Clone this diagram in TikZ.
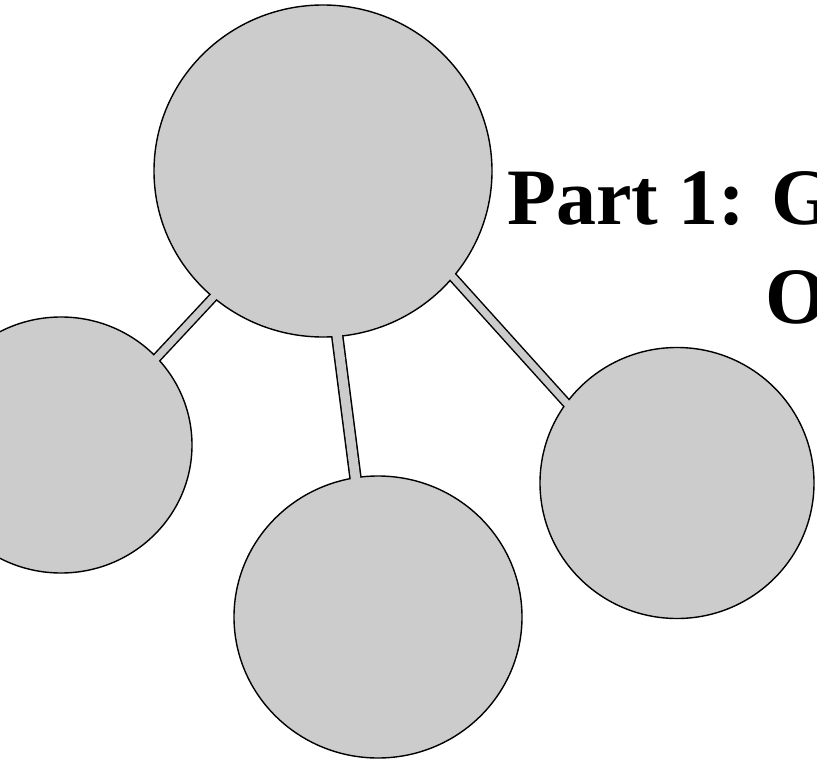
\documentclass[tikz,border=0pt]{standalone}
\usepackage{fontspec}
\setmainfont{Liberation Serif}
\usetikzlibrary{shapes.geometric}
\definecolor{ballgray}{HTML}{CCCCCC}
\tikzset{
  ball/.style 2 args={ellipse, fill=ballgray, draw=black, line width=1.4pt, inner sep=0pt, minimum width=#1, minimum height=#2},
  linkout/.style={draw=black, line width=#1+3pt},
  linkin/.style={draw=ballgray, line width=#1},
  titletext/.style={font=\fontsize{80}{99}\selectfont\bfseries, inner sep=0pt}
}
\begin{document}
\begin{tikzpicture}[x=1pt,y=-1pt]
\useasboundingbox (0,0) rectangle (817,765);
\clip (0,0) rectangle (817,765);
% connector end points (inside the circles)
\coordinate (la) at (235.4,273.5);
\coordinate (lb) at (134.6,381.5);
\coordinate (ma) at (332.1,296);
\coordinate (mb) at (360.9,520);
\coordinate (ra) at (418.2,238.7);
\coordinate (rb) at (601,441.3);
% connector outlines
\draw[linkout=7pt] (la) -- (lb);
\draw[linkout=9.5pt] (ma) -- (mb);
\draw[linkout=7pt] (ra) -- (rb);
% circles
\node[ball={338pt}{332pt}] (top) at (323,171) {};
\node[ball={262pt}{256pt}] (left) at (61,445) {};
\node[ball={288pt}{282pt}] (mid) at (378,617) {};
\node[ball={274pt}{271pt}] (right) at (677,483) {};
% connector fills
\draw[linkin=7pt] (la) -- (lb);
\draw[linkin=9.5pt] (ma) -- (mb);
\draw[linkin=7pt] (ra) -- (rb);
% title
\node[titletext, anchor=base west] (t1) at (507,224) {Part 1: G};
\node[titletext, anchor=base west] (t2) at (765,323) {O};
\end{tikzpicture}
\end{document}
